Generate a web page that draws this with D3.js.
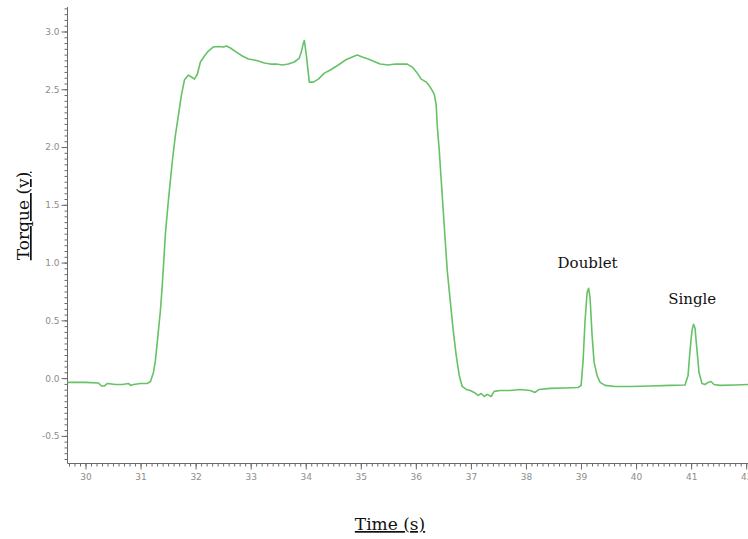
<!DOCTYPE html>
<html>
<head>
<meta charset="utf-8">
<script src="https://cdn.jsdelivr.net/npm/d3@7"></script>
<style>
  html, body { margin: 0; padding: 0; background: #fff; }
  svg { display: block; }
</style>
</head>
<body>
<svg id="chart" width="748" height="539"></svg>
<script>
// ---- data ----
const timeS = [29.673, 30.0, 30.236, 30.29, 30.345, 30.399, 30.544, 30.672, 30.78, 30.817, 30.871, 30.998, 31.125, 31.18, 31.234, 31.27, 31.307, 31.361, 31.397, 31.452, 31.506, 31.579, 31.633, 31.688, 31.742, 31.797, 31.869, 31.924, 31.978, 32.033, 32.087, 32.16, 32.232, 32.323, 32.414, 32.505, 32.559, 32.632, 32.74, 32.849, 32.958, 33.067, 33.14, 33.249, 33.358, 33.466, 33.575, 33.684, 33.793, 33.884, 33.92, 33.956, 33.975, 34.011, 34.065, 34.138, 34.229, 34.338, 34.446, 34.592, 34.719, 34.846, 34.936, 35.027, 35.136, 35.263, 35.354, 35.499, 35.626, 35.753, 35.844, 35.935, 36.025, 36.098, 36.189, 36.261, 36.334, 36.37, 36.388, 36.425, 36.461, 36.515, 36.57, 36.624, 36.679, 36.733, 36.788, 36.842, 36.915, 36.987, 37.06, 37.132, 37.187, 37.241, 37.296, 37.368, 37.423, 37.532, 37.713, 37.895, 38.076, 38.167, 38.24, 38.439, 38.711, 38.947, 39.002, 39.038, 39.074, 39.111, 39.138, 39.165, 39.201, 39.238, 39.292, 39.347, 39.437, 39.619, 39.891, 40.254, 40.617, 40.889, 40.944, 40.98, 41.016, 41.044, 41.071, 41.107, 41.143, 41.198, 41.252, 41.307, 41.361, 41.416, 41.525, 41.797, 42.033];
const torqueV = [-0.037, -0.037, -0.042, -0.068, -0.068, -0.046, -0.055, -0.055, -0.046, -0.063, -0.055, -0.046, -0.046, -0.029, 0.049, 0.153, 0.327, 0.587, 0.821, 1.254, 1.54, 1.886, 2.103, 2.276, 2.45, 2.58, 2.623, 2.606, 2.588, 2.632, 2.736, 2.788, 2.831, 2.866, 2.87, 2.866, 2.874, 2.857, 2.822, 2.788, 2.762, 2.753, 2.744, 2.727, 2.718, 2.718, 2.71, 2.718, 2.736, 2.77, 2.822, 2.9, 2.922, 2.796, 2.562, 2.562, 2.588, 2.64, 2.667, 2.71, 2.753, 2.779, 2.796, 2.779, 2.762, 2.736, 2.718, 2.71, 2.718, 2.718, 2.718, 2.692, 2.64, 2.588, 2.562, 2.519, 2.458, 2.363, 2.189, 1.973, 1.712, 1.323, 0.933, 0.673, 0.413, 0.197, 0.023, -0.072, -0.098, -0.107, -0.124, -0.15, -0.133, -0.159, -0.141, -0.159, -0.115, -0.107, -0.107, -0.098, -0.107, -0.124, -0.098, -0.089, -0.085, -0.081, -0.063, 0.154, 0.501, 0.743, 0.777, 0.691, 0.37, 0.136, 0.023, -0.037, -0.063, -0.072, -0.072, -0.068, -0.063, -0.059, 0.023, 0.24, 0.413, 0.465, 0.431, 0.24, 0.049, -0.046, -0.055, -0.037, -0.029, -0.055, -0.063, -0.059, -0.055];

const xTickValues = [30, 31, 32, 33, 34, 35, 36, 37, 38, 39, 40, 41, 42];
const yTickValues = [-0.5, 0.0, 0.5, 1.0, 1.5, 2.0, 2.5, 3.0];
const annotLabels = ["Doublet", "Single"];
const annotTimes  = [39.12, 41.02];
const annotValues = [0.95, 0.645];
const xTitle = "Time (s)";
const yTitle = "Torque (v)";

// ---- layout ----
const svg = d3.select("#chart");
const plotLeft = 67.5, plotRight = 748, plotTop = 7, plotBottom = 463.5;

const x = d3.scaleLinear().domain([29.673, 42.033]).range([plotLeft, plotRight]);
const y = d3.scaleLinear().domain([-0.739, 3.212]).range([plotBottom, plotTop]);

const axisColor = "#6a6a6a";
const labelColor = "#8c8c8c";

// minor ticks
const xMinor = d3.range(297, 421).map(d => d / 10).filter(d => d >= 29.673 && d <= 42.033);
const yMinor = d3.range(-14, 65).map(d => d / 20).filter(d => d >= -0.739 && d <= 3.212);

const gx = svg.append("g").attr("transform", `translate(0,${plotBottom})`);
gx.call(d3.axisBottom(x).tickValues(xMinor).tickSize(3).tickFormat(""));
gx.select(".domain").remove();
gx.selectAll("line").attr("stroke", axisColor);
const gx2 = svg.append("g").attr("transform", `translate(0,${plotBottom})`);
gx2.call(d3.axisBottom(x).tickValues(xTickValues).tickSize(6).tickPadding(4).tickFormat(d3.format("d")));
gx2.select(".domain").attr("stroke", axisColor).attr("d", `M${plotLeft},0H${plotRight}`);
gx2.selectAll("line").attr("stroke", axisColor);
gx2.selectAll("text").attr("fill", labelColor).attr("font-family", "DejaVu Sans").attr("font-size", 9);

const gy = svg.append("g").attr("transform", `translate(${plotLeft},0)`);
gy.call(d3.axisLeft(y).tickValues(yMinor).tickSize(3).tickFormat(""));
gy.select(".domain").remove();
gy.selectAll("line").attr("stroke", axisColor);
const gy2 = svg.append("g").attr("transform", `translate(${plotLeft},0)`);
gy2.call(d3.axisLeft(y).tickValues(yTickValues).tickSize(6).tickPadding(2)
  .tickFormat(d => d3.format(".1f")(d).replace("\u2212", "-")));
gy2.select(".domain").attr("stroke", axisColor).attr("d", `M0,${plotTop}V${plotBottom}`);
gy2.selectAll("line").attr("stroke", axisColor);
gy2.selectAll("text").attr("fill", labelColor).attr("font-family", "DejaVu Sans").attr("font-size", 9);

// data line
const pts = timeS.map((t, i) => [t, torqueV[i]]);
svg.append("path")
  .datum(pts)
  .attr("fill", "none")
  .attr("stroke", "#66c266")
  .attr("stroke-width", 1.6)
  .attr("stroke-linejoin", "round")
  .attr("d", d3.line().x(d => x(d[0])).y(d => y(d[1])));

// annotations
svg.selectAll("text.annot")
  .data(annotLabels)
  .enter().append("text")
  .attr("class", "annot")
  .attr("x", (d, i) => x(annotTimes[i]))
  .attr("y", (d, i) => y(annotValues[i]))
  .attr("text-anchor", "middle")
  .attr("font-family", "DejaVu Serif")
  .attr("font-size", 15)
  .attr("fill", "#111")
  .text(d => d);

// axis titles
svg.append("text")
  .attr("x", 390).attr("y", 530)
  .attr("text-anchor", "middle")
  .attr("font-family", "DejaVu Serif")
  .attr("font-size", 17)
  .attr("text-decoration", "underline")
  .attr("fill", "#111")
  .text(xTitle);

svg.append("text")
  .attr("transform", "translate(29,216) rotate(-90)")
  .attr("text-anchor", "middle")
  .attr("font-family", "DejaVu Serif")
  .attr("font-size", 17)
  .attr("text-decoration", "underline")
  .attr("fill", "#111")
  .text(yTitle);
</script>
</body>
</html>
